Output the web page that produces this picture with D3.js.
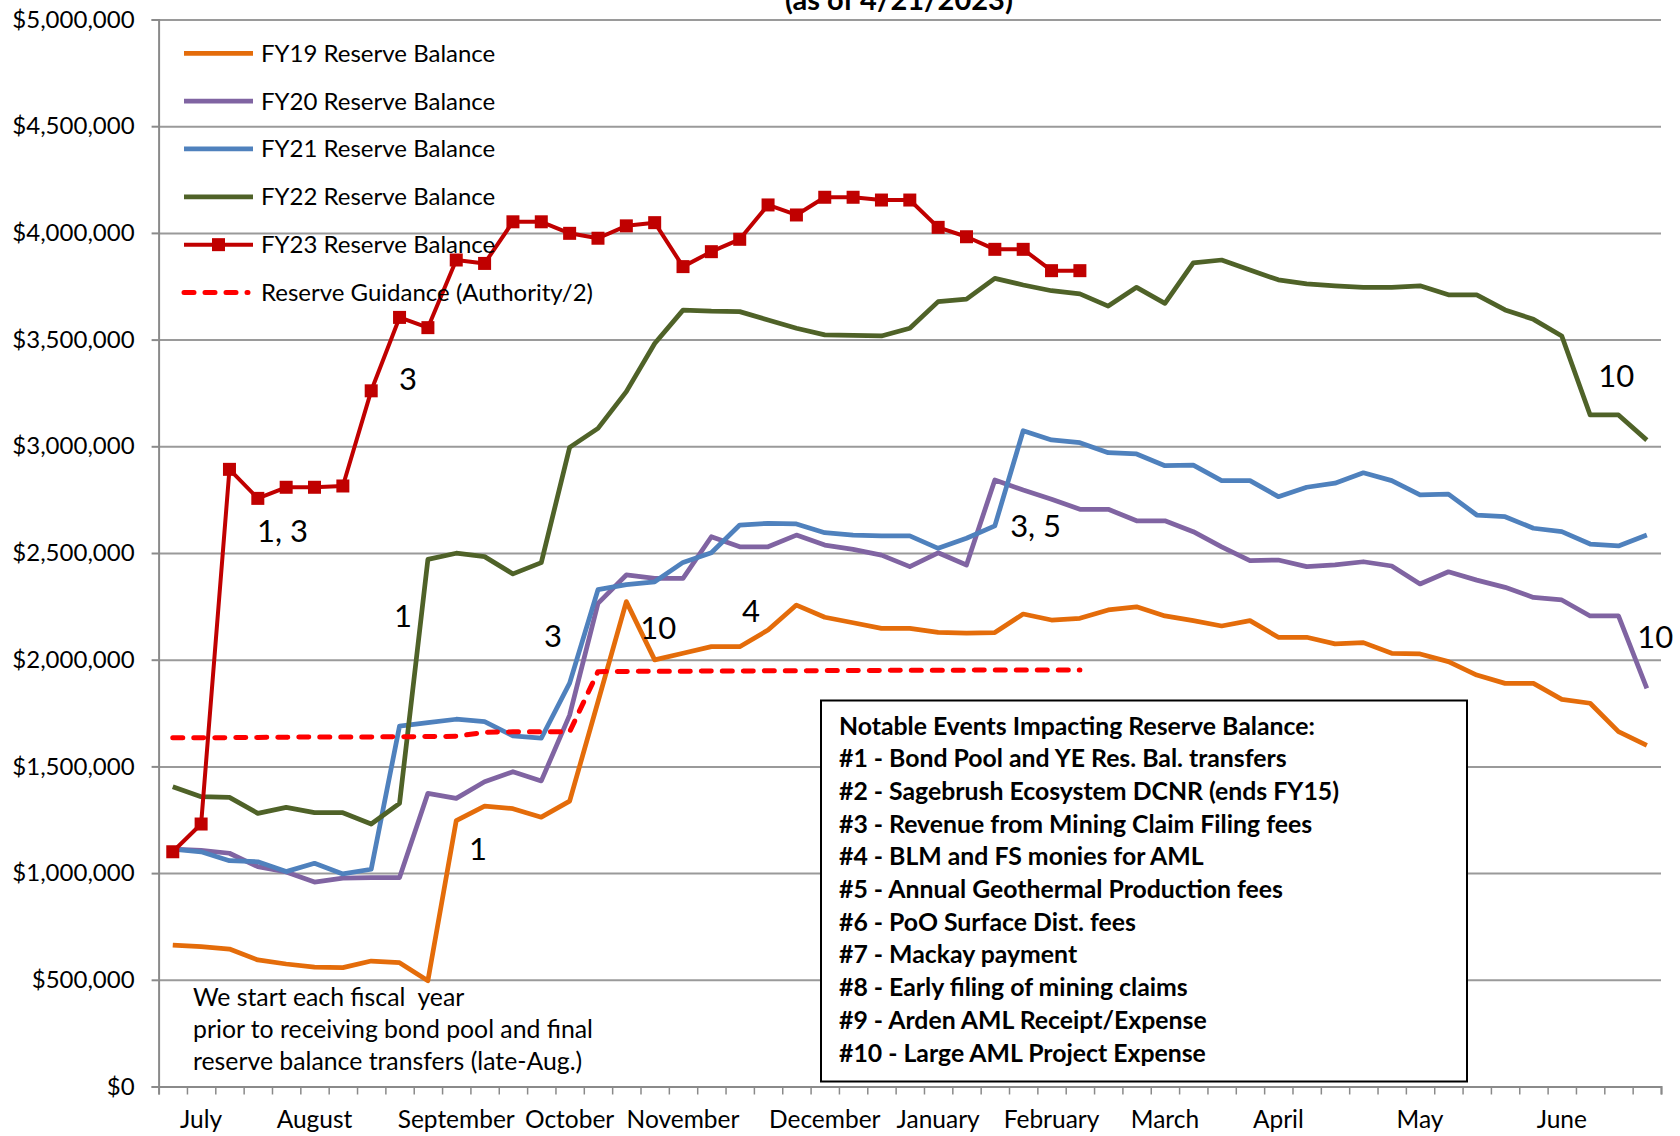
<!DOCTYPE html>
<html>
<head>
<meta charset="utf-8">
<script src="https://cdn.jsdelivr.net/npm/d3@7"></script>
<style>
body{margin:0;background:#fff;}
svg{display:block;font-family:Lato,"Open Sans",sans-serif;}
</style>
</head>
<body>
<svg id="chart" width="1680" height="1136"></svg>
<script>

// weekly reserve balances, fiscal year weeks 0..52 (July -> June)
var weeks = d3.range(53);
var months = ["July","August","September","October","November","December","January","February","March","April","May","June"];
var monthWeek = [1,5,10,14,18,23,27,31,35,39,44,49];
var yTicks = d3.range(0, 5000001, 500000);

var fy19 = [0.663,0.655,0.644,0.593,0.574,0.559,0.557,0.588,0.580,0.496,1.246,1.314,1.302,1.262,1.337,1.803,2.272,1.999,2.030,2.061,
	2.061,2.139,2.256,2.199,2.173,2.147,2.147,2.128,2.124,2.127,2.214,2.186,2.194,2.233,2.248,2.205,2.183,2.158,2.183,2.105,
	2.105,2.074,2.080,2.030,2.027,1.991,1.928,1.889,1.889,1.814,1.796,1.663,1.599];
var fy20 = [1.112,1.106,1.093,1.030,1.005,0.958,0.976,0.979,0.979,1.374,1.350,1.428,1.475,1.432,1.740,2.264,2.397,2.381,2.381,2.576,
	2.529,2.529,2.584,2.537,2.517,2.490,2.436,2.501,2.444,2.842,2.795,2.752,2.705,2.705,2.651,2.651,2.600,2.529,2.464,2.467,
	2.436,2.444,2.459,2.439,2.355,2.412,2.373,2.339,2.292,2.280,2.205,2.205,1.866];
var fy21 = [1.112,1.100,1.058,1.053,1.007,1.046,0.996,1.018,1.689,1.705,1.721,1.710,1.643,1.632,1.890,2.328,2.352,2.365,2.456,2.501,
	2.631,2.639,2.636,2.595,2.584,2.580,2.580,2.522,2.569,2.627,3.073,3.030,3.017,2.970,2.964,2.909,2.912,2.839,2.839,2.764,
	2.808,2.827,2.876,2.839,2.772,2.776,2.678,2.670,2.616,2.600,2.542,2.533,2.584];
var fy22 = [1.405,1.358,1.355,1.280,1.308,1.283,1.283,1.230,1.327,2.470,2.499,2.483,2.402,2.455,2.995,3.084,3.256,3.482,3.638,3.633,
	3.631,3.592,3.553,3.522,3.520,3.517,3.553,3.678,3.690,3.787,3.756,3.729,3.714,3.657,3.745,3.670,3.860,3.873,3.826,3.780,
	3.761,3.752,3.745,3.745,3.752,3.710,3.710,3.639,3.595,3.517,3.147,3.147,3.029];
var fy23 = [1.100,1.230,2.892,2.756,2.808,2.808,2.814,3.260,3.604,3.556,3.873,3.857,4.052,4.052,3.998,3.975,4.033,4.048,3.842,3.912,
	3.970,4.131,4.084,4.167,4.167,4.154,4.154,4.026,3.982,3.923,3.923,3.823,3.823];
var guidance = [1.634,1.634,1.635,1.636,1.637,1.638,1.638,1.638,1.639,1.640,1.641,1.660,1.662,1.662,1.662,1.944,1.945,1.946,1.946,1.947,
	1.947,1.948,1.948,1.949,1.949,1.950,1.951,1.951,1.951,1.952,1.952,1.952,1.952];

var seriesNames = ["FY19 Reserve Balance","FY20 Reserve Balance","FY21 Reserve Balance","FY22 Reserve Balance","FY23 Reserve Balance","Reserve Guidance (Authority/2)"];

// event numbers written on the chart, anchored at (week position, dollars)
var notes = [
	{t:"3", w:8.48, v:3265000}, {t:"1, 3", w:3.47, v:2552000}, {t:"1", w:8.30, v:2153000},
	{t:"3", w:13.60, v:2059000}, {t:"10", w:16.99, v:2097000}, {t:"4", w:20.58, v:2177000},
	{t:"1", w:10.95, v:1061000}, {t:"3, 5", w:30.04, v:2575000}, {t:"10", w:50.79, v:3278000},
	{t:"10", w:52.16, v:2055000}
];
var eventLines = ["Notable Events Impacting Reserve Balance:",
	"#1 - Bond Pool and YE Res. Bal. transfers",
	"#2 - Sagebrush Ecosystem DCNR (ends FY15)",
	"#3 - Revenue from Mining Claim Filing fees",
	"#4 - BLM and FS monies for AML",
	"#5 - Annual Geothermal Production fees",
	"#6 - PoO Surface Dist. fees",
	"#7 - Mackay payment",
	"#8 - Early filing of mining claims",
	"#9 - Arden AML Receipt/Expense",
	"#10 - Large AML Project Expense"];
var startNote = ["We start each fiscal  year","prior to receiving bond pool and final","reserve balance transfers (late-Aug.)"];

var svg = d3.select("#chart");
// plot frame (note: "top" would clash with window.top)
var plotL = 158.6, plotR = 1661, plotT = 19.5, plotB = 1086.5;

var x = d3.scaleBand().domain(weeks).range([plotL, plotR]).padding(0);
var xLin = d3.scaleLinear().domain([0, 53]).range([plotL, plotR]);
var y = d3.scaleLinear().domain([0, 5000000]).range([plotB, plotT]);
var cx = function(d,i){ return x(i) + x.bandwidth()/2; };

// gridlines
svg.append("g")
	.attr("transform","translate("+plotL+",0)")
	.call(d3.axisLeft(y).tickValues(yTicks).tickSize(-(plotR-plotL)).tickFormat(""))
	.call(function(g){
		g.select(".domain").remove();
		g.selectAll("line").attr("stroke","#9a9a9a").attr("stroke-width",2);
	});

// y axis
svg.append("g")
	.attr("transform","translate("+plotL+",0)")
	.call(d3.axisLeft(y).tickValues(yTicks).tickSize(7).tickPadding(17).tickFormat(d3.format("$,")))
	.call(function(g){
		g.select(".domain").attr("stroke","#8a8a8a").attr("stroke-width",2);
		g.selectAll("line").attr("stroke","#8a8a8a").attr("stroke-width",2);
		g.selectAll("text").attr("font-size",24).attr("fill","#000").style("font-family","Lato");
	});

// x axis, a tick at every week boundary
svg.append("g")
	.attr("transform","translate(0,"+plotB+")")
	.call(d3.axisBottom(xLin).tickValues(d3.range(0,54)).tickSize(8).tickFormat(""))
	.call(function(g){
		g.select(".domain").attr("stroke","#8a8a8a").attr("stroke-width",2);
		g.selectAll("line").attr("stroke","#8a8a8a").attr("stroke-width",1.5);
	});

svg.append("g").selectAll("text").data(months).enter()
	.append("text")
	.attr("x",function(d,i){ return x(monthWeek[i]) + x.bandwidth()/2; })
	.attr("y",1128)
	.attr("text-anchor","middle")
	.attr("font-size",24.5)
	.text(function(d){ return d; });

var line = d3.line()
	.x(function(d,i){ return cx(d,i); })
	.y(function(d){ return y(d*1000000); });

var series = [
	{data:fy19, color:"#e46c0a", width:4.75},
	{data:fy20, color:"#8064a2", width:4.75},
	{data:fy21, color:"#4f81bd", width:4.75},
	{data:fy22, color:"#4f6228", width:4.75},
	{data:fy23, color:"#c00000", width:4, marker:true},
	{data:guidance, color:"#ff0000", width:5, dash:"10,11"}
];

series.forEach(function(s){
	var p = svg.append("path").datum(s.data)
		.attr("d",line)
		.attr("fill","none")
		.attr("stroke",s.color)
		.attr("stroke-width",s.width)
		.attr("stroke-linejoin","round");
	if(s.dash) p.attr("stroke-dasharray",s.dash).attr("stroke-linecap","round");
	if(s.marker){
		svg.append("g").selectAll("rect").data(s.data).enter()
			.append("rect")
			.attr("x",function(d,i){ return cx(d,i) - 6.5; })
			.attr("y",function(d){ return y(d*1000000) - 6.5; })
			.attr("width",13).attr("height",13)
			.attr("fill",s.color);
	}
});

// legend
var legend = svg.append("g");
var legendY = d3.scaleLinear().domain([0,5]).range([53.3, 292.5]);
seriesNames.forEach(function(name,i){
	var s = series[i];
	var gy = legendY(i);
	var l = legend.append("line")
		.attr("x1",184).attr("x2",s.dash ? 248 : 253)
		.attr("y1",gy).attr("y2",gy)
		.attr("stroke",s.color)
		.attr("stroke-width",s.width)
		.attr("stroke-linecap",s.dash ? "round" : "butt");
	if(s.dash) l.attr("stroke-dasharray",s.dash);
	if(s.marker){
		legend.append("rect").attr("x",212).attr("y",gy-6.5).attr("width",13).attr("height",13).attr("fill",s.color);
	}
	legend.append("text")
		.attr("x",261).attr("y",gy)
		.attr("dy","0.35em")
		.attr("font-size",24)
		.text(name);
});

// event numbers
svg.append("g").selectAll("text").data(notes).enter()
	.append("text")
	.attr("x",function(d){ return xLin(d.w); })
	.attr("y",function(d){ return y(d.v); })
	.attr("font-size",31)
	.text(function(d){ return d.t; });

// notable events box
var box = svg.append("g");
box.append("rect")
	.attr("x",821).attr("y",700.5)
	.attr("width",646).attr("height",381)
	.attr("fill","#fff")
	.attr("stroke","#000")
	.attr("stroke-width",2);
box.selectAll("text").data(eventLines).enter()
	.append("text")
	.attr("x",839)
	.attr("y",function(d,i){ return 734.5 + i*32.7; })
	.attr("font-size",24.8)
	.attr("font-weight","bold")
	.text(function(d){ return d; });

svg.append("g").selectAll("text").data(startNote).enter()
	.append("text")
	.attr("x",193)
	.attr("y",function(d,i){ return 1006 + i*32; })
	.attr("font-size",24.8)
	.style("white-space","pre")
	.text(function(d){ return d; });

// title, mostly above the picture
svg.append("text")
	.attr("x",785).attr("y",10)
	.attr("font-size",29)
	.attr("font-weight","bold")
	.text("(as of 4/21/2023)");

</script>
</body>
</html>
